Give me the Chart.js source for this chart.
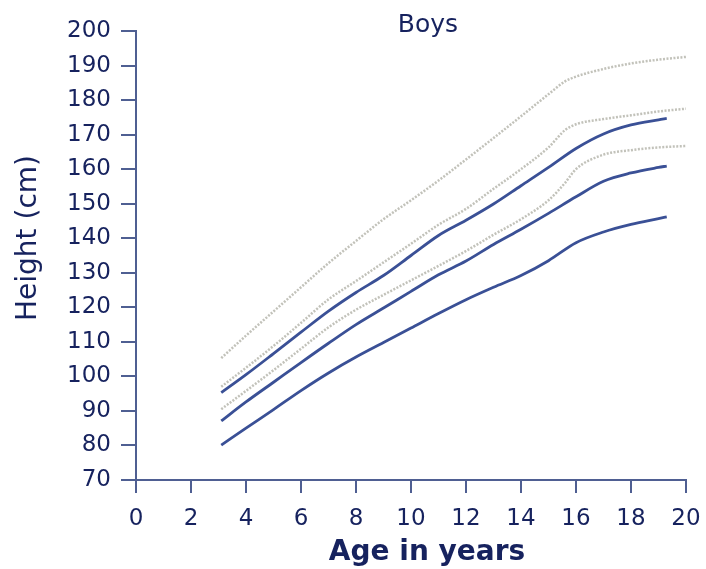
<!DOCTYPE html>
<html>
<head>
<meta charset="utf-8">
<script src="https://cdn.jsdelivr.net/npm/chart.js@4/dist/chart.umd.min.js"></script>
<style>
  html, body { margin: 0; padding: 0; background: #ffffff; }
  #wrap { width: 706px; height: 569px; position: relative; }
</style>
</head>
<body>
<div id="wrap"><canvas id="c" width="706" height="569"></canvas></div>
<script>
// Height-for-age reference curves for boys (cm)
const agesSolid  = [3.1, 4, 5, 6, 7, 8, 9, 10, 11, 12, 13, 14, 15, 16, 17, 18, 19, 19.3];
const agesDotted = [3.1, 4, 5, 6, 7, 8, 9, 10, 11, 12, 13, 14, 15, 15.6, 16, 17, 18, 19, 20];

// dotted (outer) curves
const dottedTop = [105.3, 111.8, 118.8, 125.8, 132.8, 139.2, 145.5, 151.0, 156.7, 162.8, 169.0, 175.3, 181.7, 185.4, 186.8, 189.0, 190.6, 191.7, 192.5];
const dottedMid = [97.0, 102.5, 108.8, 115.5, 122.3, 127.6, 133.0, 138.4, 143.9, 148.5, 154.3, 160.0, 166.3, 171.3, 173.0, 174.5, 175.6, 176.7, 177.5];
const dottedLow = [90.5, 95.8, 101.8, 108.0, 114.2, 119.3, 123.6, 127.8, 132.0, 136.3, 141.0, 145.5, 151.0, 156.0, 160.0, 164.2, 165.5, 166.3, 166.7];

// solid curves
const solidTop = [95.3, 100.5, 106.6, 112.8, 118.9, 124.3, 129.2, 135.0, 140.8, 145.2, 149.9, 155.2, 160.5, 166.0, 170.2, 172.8, 174.3, 174.7];
const solidMid = [87.1, 92.6, 98.3, 104.0, 109.6, 115.0, 119.8, 124.6, 129.4, 133.4, 138.2, 142.6, 147.2, 152.0, 156.5, 158.9, 160.5, 160.9];
const solidLow = [80.1, 85.0, 90.4, 95.9, 101.0, 105.6, 109.8, 114.0, 118.2, 122.2, 125.8, 129.2, 133.5, 138.7, 141.8, 144.0, 145.7, 146.2];

const xTicks = [0, 2, 4, 6, 8, 10, 12, 14, 16, 18, 20];
const yTicks = [70, 80, 90, 100, 110, 120, 130, 140, 150, 160, 170, 180, 190, 200];

const titleText = 'Boys';
const xTitle = 'Age in years';
const yTitle = 'Height (cm)';

const TEXT = '#16225e';
const AXIS = '#4f5f92';
const SOLID = '#3a5096';
const DOT = '#c2c2ba';

function pts(xs, ys) { return xs.map((x, i) => ({ x: x, y: ys[i] })); }

function solidSet(ys) {
  return { data: pts(agesSolid, ys), borderColor: SOLID, borderWidth: 2.8,
           pointRadius: 0, cubicInterpolationMode: 'monotone', fill: false };
}
function dottedSet(ys) {
  return { data: pts(agesDotted, ys), borderColor: DOT, borderWidth: 2.5,
           borderDash: [2, 1.5], pointRadius: 0, cubicInterpolationMode: 'monotone', fill: false };
}

// Titles drawn at fixed spots around the plot
const titles = {
  id: 'titles',
  afterDraw(chart) {
    const ctx = chart.ctx;
    ctx.save();
    ctx.fillStyle = TEXT;
    ctx.textAlign = 'center';
    ctx.textBaseline = 'middle';
    ctx.font = '25px "DejaVu Sans"';
    ctx.fillText(titleText, 428, 25);
    ctx.font = 'bold 28px "DejaVu Sans"';
    ctx.fillText(xTitle, 427, 553);
    ctx.translate(29, 238);
    ctx.rotate(-Math.PI / 2);
    ctx.font = '28px "DejaVu Sans"';
    ctx.fillText(yTitle, 0, 0);
    ctx.restore();
  }
};

new Chart(document.getElementById('c'), {
  type: 'line',
  data: {
    datasets: [
      dottedSet(dottedTop), dottedSet(dottedMid), dottedSet(dottedLow),
      solidSet(solidTop), solidSet(solidMid), solidSet(solidLow)
    ]
  },
  options: {
    responsive: false,
    animation: false,
    layout: { padding: { top: 31, right: 20, left: 0, bottom: 0 } },
    plugins: { legend: { display: false }, tooltip: { enabled: false }, title: { display: false } },
    scales: {
      x: {
        type: 'linear', min: 0, max: 20,
        afterBuildTicks(s) { s.ticks = xTicks.map(v => ({ value: v })); },
        afterFit(s) { s.height = 89; s.paddingLeft = 0; s.paddingRight = 0; },
        grid: { drawOnChartArea: false, drawTicks: true, tickLength: 13, color: AXIS, lineWidth: 2 },
        border: { display: true, color: AXIS, width: 2 },
        ticks: { color: TEXT, font: { family: 'DejaVu Sans', size: 23 }, padding: 12, maxRotation: 0 }
      },
      y: {
        type: 'linear', min: 70, max: 200,
        afterBuildTicks(s) { s.ticks = yTicks.map(v => ({ value: v })); },
        afterFit(s) { s.width = 136; s.paddingTop = 0; s.paddingBottom = 0; },
        grid: { drawOnChartArea: false, drawTicks: true, tickLength: 15, color: AXIS, lineWidth: 2 },
        border: { display: true, color: AXIS, width: 2 },
        ticks: { color: TEXT, font: { family: 'DejaVu Sans', size: 23 }, padding: 10 }
      }
    }
  },
  plugins: [titles]
});
</script>
</body>
</html>
